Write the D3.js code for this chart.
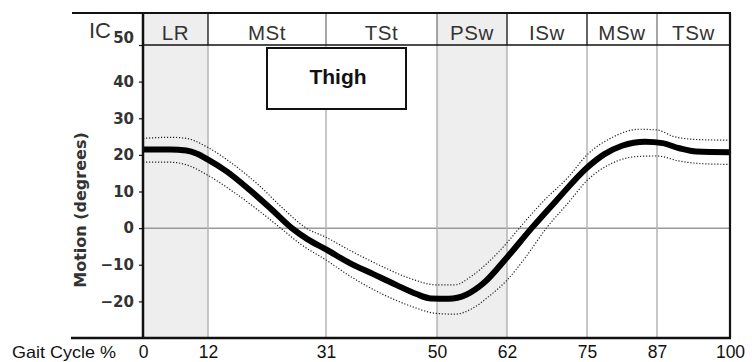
<!DOCTYPE html>
<html><head><meta charset="utf-8">
<script src="https://cdn.jsdelivr.net/npm/d3@7"></script>
<style>
body{margin:0;background:#fff;}
svg{display:block;font-family:"Liberation Sans",Arial,sans-serif;}
</style></head>
<body><svg id="c" width="752" height="362"></svg>
<script>
// ---- data ----
const gaitTicks = [0, 12, 31, 50, 62, 75, 87, 100];
const motionTicks = [-20, -10, 0, 10, 20, 30, 40, 50];
const phases = ["LR", "MSt", "TSt", "PSw", "ISw", "MSw", "TSw"];
const phaseStart = [0, 12, 31, 50, 62, 75, 87];
const phaseEnd = [12, 31, 50, 62, 75, 87, 100];
const shadedPhases = ["LR", "PSw"];
const meanPct = [0,5,8,10,12,15,19,22,25.5,28,31,35,39,43,46.5,49,52,55,58,62,66,70,75,78,81,85,88,91,94,100];
const meanDeg = [21.5,21.5,21.2,20.3,18.7,15.5,10,5.5,0,-3,-5.8,-9.5,-12.5,-15.5,-18,-19.2,-19.3,-18.2,-15,-8,0,7.5,16.5,20.2,22.5,23.6,23.2,21.8,20.9,20.7];
const upperPct = [0,5,8,12,16,20,24,27.8,31,35,40,45,50,53,56,59,62,64,68,72,75,79,84,87,90,94,100];
const upperDeg = [24.5,24.8,24.5,22,17.5,12,5.5,0,-2.5,-6,-10,-13.5,-15.5,-15.5,-13,-9,-4,0,7.5,14,20,24.5,27,26.8,25,24.2,24];
const lowerPct = [0,5,8,12,16,20,23.7,27,31,35,40,45,50,53,56,59,62,65,68.4,72,75,79,84,87,91,95,100];
const lowerDeg = [18,18,17.3,14.4,10,5,0,-4.5,-8.7,-13,-17.5,-21,-23.3,-23.5,-22,-18.5,-14.2,-8,0,7,13,17.5,19.6,19.7,18.3,17.6,17.4];
const title = "Thigh";
const yLabel = "Motion (degrees)";
const xLabel = "Gait Cycle %";
const startLabel = "IC";

// ---- layout ----
const svg = d3.select("#c");
const L = 143, R = 730, T = 13, HB = 45, B = 338;
const xStops = [143, 208, 326, 437, 507, 587, 657, 730];
const x = d3.scaleLinear().domain(gaitTicks).range(xStops);
const y = d3.scaleLinear().domain([-30, 50]).range([B, HB]);
const SANS = "'Liberation Sans',Arial,sans-serif";
const DEJA = "'DejaVu Sans',sans-serif";

// shaded bands (plot and header)
phases.forEach((p, i) => {
  if (!shadedPhases.includes(p)) return;
  svg.append("rect").attr("x", x(phaseStart[i])).attr("y", T)
    .attr("width", x(phaseEnd[i]) - x(phaseStart[i])).attr("height", B - T)
    .attr("fill", "#eeeeee");
});

// zero line
svg.append("line").attr("x1", L).attr("x2", R).attr("y1", y(0)).attr("y2", y(0))
  .attr("stroke", "#9a9a9a").attr("stroke-width", 1.5);

// vertical grid lines
[12, 31, 50, 62, 75, 87].forEach(v => {
  svg.append("line").attr("x1", x(v)).attr("x2", x(v)).attr("y1", HB).attr("y2", B)
    .attr("stroke", "#b4b4b4").attr("stroke-width", 1.5);
});

// header dividers
phaseStart.slice(1).forEach(v => {
  svg.append("line").attr("x1", x(v)).attr("x2", x(v)).attr("y1", T).attr("y2", HB)
    .attr("stroke", (v === 31 || v === 50 || v === 87) ? "#777" : "#111").attr("stroke-width", 1.3);
});
svg.append("line").attr("x1", L).attr("x2", R).attr("y1", HB).attr("y2", HB)
  .attr("stroke", "#111").attr("stroke-width", 1.5);
svg.append("line").attr("x1", 72).attr("x2", R + 1).attr("y1", T).attr("y2", T)
  .attr("stroke", "#111").attr("stroke-width", 2.2);

// header labels
phases.forEach((p, i) => {
  svg.append("text").attr("x", (x(phaseStart[i]) + x(phaseEnd[i])) / 2).attr("y", 40)
    .attr("text-anchor", "middle").style("font-size", "20.5px").attr("fill", "#333")
    .style("font-family", SANS).attr("letter-spacing", 0.6)
    .text(p);
});
svg.append("text").attr("x", 89).attr("y", 38).style("font-size", "22px").attr("fill", "#333")
  .style("font-family", SANS).text(startLabel);

// curves
const line = d3.line().x(d => x(d[0])).y(d => y(d[1])).curve(d3.curveMonotoneX);
const zip = (a, b) => a.map((v, i) => [v, b[i]]);
svg.append("path").attr("d", line(zip(upperPct, upperDeg))).attr("fill", "none")
  .attr("stroke", "#222").attr("stroke-width", 1.2).attr("stroke-dasharray", "1.2,1.8");
svg.append("path").attr("d", line(zip(lowerPct, lowerDeg))).attr("fill", "none")
  .attr("stroke", "#222").attr("stroke-width", 1.2).attr("stroke-dasharray", "1.2,1.8");
svg.append("path").attr("d", line(zip(meanPct, meanDeg))).attr("fill", "none")
  .attr("stroke", "#000").attr("stroke-width", 6).attr("stroke-linejoin", "round");

// title box
svg.append("rect").attr("x", 267).attr("y", 48).attr("width", 139).attr("height", 61)
  .attr("fill", "#fff").attr("stroke", "#111").attr("stroke-width", 2);
svg.append("text").attr("x", 338).attr("y", 84).attr("text-anchor", "middle")
  .style("font-size", "21px").style("font-weight", "bold").style("font-family", SANS)
  .attr("fill", "#111").text(title);

// axes frame
svg.append("line").attr("x1", L).attr("x2", L).attr("y1", T).attr("y2", B + 1)
  .attr("stroke", "#111").attr("stroke-width", 2.5);
svg.append("line").attr("x1", R).attr("x2", R).attr("y1", T).attr("y2", B + 1)
  .attr("stroke", "#111").attr("stroke-width", 2.2);
svg.append("line").attr("x1", 71).attr("x2", R + 1).attr("y1", B).attr("y2", B)
  .attr("stroke", "#111").attr("stroke-width", 2.5);

// y axis ticks
const yAxis = d3.axisLeft(y).tickValues(motionTicks).tickSize(4).tickPadding(5);
const gy = svg.append("g").attr("transform", `translate(${L},0)`).call(yAxis);
gy.select(".domain").remove();
gy.selectAll(".tick line").attr("stroke", "#111").attr("stroke-width", 1.2);
gy.selectAll(".tick text").style("font-size", "15px").style("font-weight", "bold")
  .style("font-family", DEJA).attr("fill", "#333");
gy.selectAll(".tick").filter(d => d === 50).select("text").attr("y", -7);

// x axis labels
const xAxis = d3.axisBottom(x).tickValues(gaitTicks).tickSize(0).tickPadding(0);
const gx = svg.append("g").attr("transform", `translate(0,${B})`).call(xAxis);
gx.select(".domain").remove();
gx.selectAll(".tick text").style("font-size", "17.5px").style("font-family", SANS)
  .attr("fill", "#111").attr("dy", null).attr("y", 20);

// axis titles
svg.append("text").attr("x", 12).attr("y", 358).style("font-size", "16.5px").style("font-family", SANS)
  .attr("fill", "#111").attr("textLength", 104).attr("lengthAdjust", "spacingAndGlyphs").text(xLabel);
svg.append("text").attr("transform", "translate(86,210) rotate(-90)").attr("text-anchor", "middle")
  .style("font-size", "16px").style("font-weight", "bold").style("font-family", DEJA)
  .attr("fill", "#333").text(yLabel);
</script></body></html>
